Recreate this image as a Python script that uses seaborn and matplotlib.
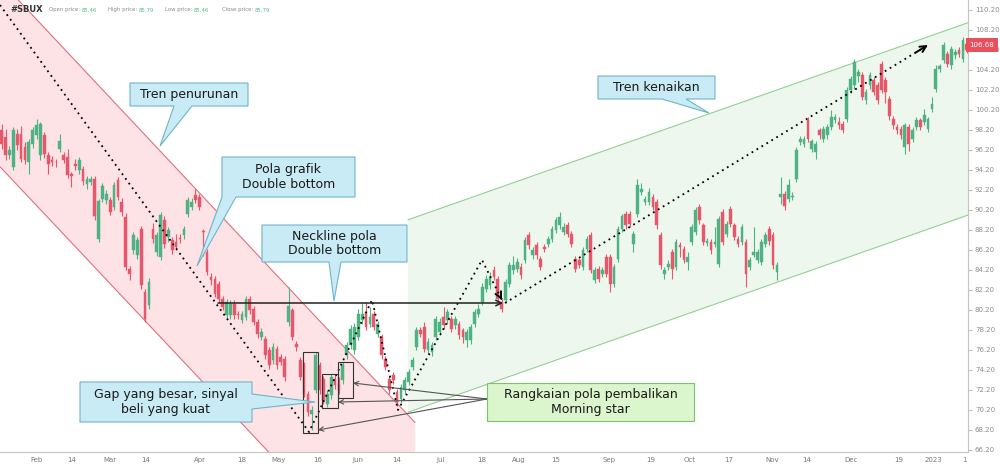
import matplotlib
matplotlib.use("Agg")
import matplotlib.pyplot as plt
import matplotlib.transforms as mtransforms
from matplotlib.patches import Polygon, Rectangle
import seaborn as sns

# daily candles (Jan 2022 .. Jan 2023)
opens = [
    98.15, 97.5, 95.65, 94.5, 97.8, 97.8, 96.5, 95.0, 96.8, 97.65,
    95.65, 97.65, 95.65, 95.2, 95.0, 96.3, 95.65, 95.5, 93.8, 94.8,
    94.15, 94.3, 92.8, 93.0, 93.3, 87.3, 91.3, 91.15, 91.15, 90.5,
    93.15, 91.0, 89.5, 84.3, 86.15, 85.65, 88.3, 82.0, 80.65, 88.3,
    86.0, 85.5, 89.15, 87.5, 87.15, 87.0, 87.4, 87.65, 89.8, 90.5,
    91.65, 91.5, 88.1, 86.0, 83.5, 83.3, 82.8, 81.3, 79.65, 79.65,
    80.8, 79.75, 79.15, 79.5, 81.3, 80.3, 79.0, 77.5, 77.3, 76.15,
    75.15, 76.3, 75.5, 75.3, 79.0, 80.15, 76.8, 75.15, 74.65, 71.8,
    69.8, 72.15, 74.65, 73.3, 70.8, 71.65, 73.3, 72.8, 73.15, 75.65,
    76.65, 76.15, 77.5, 79.15, 80.0, 78.8, 79.8, 77.8, 77.5, 75.3,
    73.3, 73.65, 72.0, 71.3, 72.15, 73.0, 74.5, 76.5, 78.15, 78.5,
    76.15, 76.0, 77.5, 78.0, 79.5, 79.15, 79.3, 78.65, 78.8, 78.15,
    77.15, 77.15, 78.8, 79.8, 81.0, 82.3, 82.65, 84.15, 83.3, 81.0,
    81.15, 82.8, 84.15, 84.3, 84.5, 85.15, 87.65, 85.65, 86.65, 85.3,
    86.5, 86.8, 87.3, 88.15, 88.65, 88.0, 88.65, 87.8, 85.3, 85.15,
    84.5, 86.3, 87.65, 83.15, 84.3, 83.8, 85.5, 85.5, 82.8, 85.3,
    88.3, 89.8, 89.8, 86.8, 89.8, 92.0, 91.0, 91.0, 91.5, 91.0,
    87.65, 83.8, 84.5, 86.0, 84.5, 86.65, 86.3, 85.0, 87.0, 88.0,
    90.5, 88.65, 86.9, 87.0, 86.8, 84.8, 90.0, 87.8, 90.3, 88.65,
    87.3, 87.0, 87.0, 84.5, 85.7, 85.15, 85.0, 86.8, 88.3, 87.65,
    84.0, 91.5, 91.8, 91.3, 91.5, 93.3, 97.0, 96.8, 99.15, 96.3,
    96.0, 98.15, 97.3, 97.65, 98.5, 99.15, 99.0, 98.8, 99.3, 102.15,
    102.65, 103.6, 103.65, 101.15, 102.65, 103.15, 102.65, 104.8, 103.15, 101.3,
    99.3, 98.5, 98.3, 96.5, 98.5, 97.3, 98.5, 99.15, 99.0, 98.3,
    100.3, 102.3, 104.3, 105.15, 105.8, 104.65, 105.65, 106.15, 105.3, 106.8,
]
closes = [
    96.8, 95.65, 96.15, 98.15, 96.65, 95.3, 95.15, 96.95, 98.15, 98.65,
    98.8, 95.8, 94.8, 95.0, 94.9, 97.0, 95.15, 93.65, 93.5, 94.5,
    95.15, 93.0, 93.3, 93.3, 89.5, 91.0, 92.5, 91.8, 90.0, 92.65,
    91.5, 90.0, 84.5, 83.8, 87.65, 87.15, 82.65, 79.3, 83.0, 87.3,
    87.65, 89.65, 86.8, 88.15, 86.15, 86.5, 87.3, 88.3, 91.15, 91.0,
    91.15, 90.5, 87.9, 84.0, 83.15, 81.8, 81.3, 80.5, 81.0, 80.8,
    79.65, 79.65, 79.8, 81.3, 80.15, 79.0, 77.8, 78.0, 75.65, 74.65,
    76.5, 74.65, 75.0, 73.5, 80.6, 77.5, 76.5, 73.5, 71.8, 70.0,
    70.15, 75.65, 72.15, 71.15, 71.8, 73.5, 72.65, 72.15, 74.65, 76.65,
    78.3, 78.5, 79.8, 79.8, 78.5, 79.5, 78.5, 78.8, 75.65, 74.5,
    72.15, 73.15, 71.0, 72.5, 73.15, 74.0, 75.15, 78.15, 77.8, 76.3,
    77.0, 76.65, 79.3, 79.0, 78.65, 80.0, 78.3, 79.3, 77.65, 77.5,
    78.0, 78.5, 80.0, 80.3, 82.5, 83.3, 83.5, 83.5, 81.3, 80.3,
    83.0, 84.65, 84.65, 85.0, 83.65, 87.15, 86.65, 86.15, 85.65, 84.5,
    86.3, 87.3, 88.3, 89.15, 89.5, 88.5, 87.8, 86.8, 84.3, 84.65,
    86.15, 87.3, 84.15, 84.15, 83.3, 84.15, 83.8, 82.8, 84.5, 88.3,
    89.5, 88.65, 88.8, 87.8, 92.65, 92.3, 91.3, 92.0, 90.5, 88.65,
    84.65, 84.15, 84.8, 84.3, 87.0, 86.5, 85.15, 85.5, 88.5, 90.15,
    89.15, 87.0, 87.1, 86.15, 86.9, 89.3, 87.0, 88.8, 88.8, 87.5,
    86.8, 88.5, 83.8, 85.15, 85.9, 86.0, 87.0, 87.65, 87.0, 84.65,
    84.65, 91.8, 90.5, 92.65, 91.6, 96.15, 97.3, 97.3, 97.3, 97.0,
    96.8, 97.65, 98.3, 98.5, 99.5, 99.5, 98.65, 98.15, 102.15, 103.3,
    105.0, 103.9, 101.5, 102.0, 103.65, 102.0, 101.15, 102.15, 102.0, 99.5,
    98.65, 98.15, 97.65, 98.65, 96.8, 98.15, 99.15, 98.5, 99.65, 99.2,
    100.8, 104.3, 104.5, 106.65, 104.8, 106.3, 106.0, 105.8, 107.15, 106.15,
]
highs = [
    98.8, 98.3, 96.6, 98.5, 98.3, 98.6, 97.0, 97.3, 98.5, 99.3,
    99.0, 98.0, 96.0, 95.6, 95.3, 97.8, 96.0, 96.3, 94.0, 95.3,
    95.5, 94.6, 93.6, 93.6, 93.6, 91.3, 92.9, 92.2, 91.5, 93.0,
    93.5, 91.4, 89.9, 84.6, 88.0, 87.5, 88.6, 82.3, 83.4, 88.9,
    88.0, 90.0, 89.6, 88.5, 87.5, 87.8, 87.8, 88.6, 91.5, 91.4,
    92.3, 91.8, 88.3, 86.3, 83.9, 83.6, 83.1, 81.6, 81.3, 81.2,
    81.2, 80.1, 80.1, 81.6, 81.6, 80.6, 79.3, 78.4, 77.6, 76.5,
    76.9, 76.6, 75.8, 75.6, 82.5, 80.4, 77.1, 75.5, 75.0, 72.1,
    70.6, 76.0, 75.0, 73.6, 72.2, 73.8, 73.7, 73.5, 75.0, 77.0,
    78.7, 78.9, 80.3, 80.9, 81.0, 80.5, 80.1, 79.1, 77.8, 75.6,
    73.6, 74.0, 72.3, 72.8, 73.5, 74.3, 75.5, 78.5, 78.5, 79.0,
    77.4, 77.0, 79.6, 79.4, 80.5, 80.3, 79.6, 79.6, 79.1, 78.4,
    78.3, 78.8, 80.3, 80.8, 82.9, 83.7, 84.0, 84.6, 83.6, 81.3,
    83.3, 85.0, 85.6, 85.4, 84.9, 87.5, 88.0, 86.5, 87.0, 85.6,
    86.8, 87.6, 88.6, 89.5, 90.0, 88.9, 89.0, 88.1, 85.6, 85.4,
    86.5, 87.6, 88.0, 84.5, 84.6, 84.5, 85.8, 85.8, 84.8, 88.6,
    89.8, 90.1, 90.1, 88.1, 93.3, 92.9, 91.6, 92.4, 91.8, 91.3,
    88.0, 84.5, 85.2, 86.3, 87.3, 87.0, 86.6, 86.0, 88.8, 90.5,
    90.8, 88.9, 87.4, 87.3, 88.5, 89.6, 90.3, 89.1, 90.6, 88.9,
    87.6, 88.8, 87.3, 85.5, 88.5, 86.3, 87.3, 88.0, 88.6, 88.0,
    85.0, 93.5, 92.1, 93.3, 92.0, 96.5, 97.6, 97.6, 99.5, 97.3,
    97.1, 98.4, 98.6, 98.8, 100.2, 99.8, 99.5, 99.1, 102.5, 103.6,
    105.3, 104.3, 104.0, 102.3, 104.0, 103.5, 103.0, 105.1, 103.5, 101.6,
    99.6, 98.8, 98.6, 98.9, 98.8, 98.5, 99.5, 99.4, 100.3, 99.5,
    101.5, 104.7, 104.8, 107.0, 106.1, 106.6, 106.3, 106.5, 107.5, 107.0,
]
lows = [
    96.3, 95.2, 95.3, 94.2, 96.2, 95.0, 94.8, 93.8, 96.4, 97.3,
    95.2, 95.4, 93.8, 94.6, 94.5, 96.0, 94.9, 93.4, 92.5, 94.2,
    93.8, 92.7, 92.3, 92.7, 89.2, 87.0, 91.0, 90.8, 89.7, 90.2,
    91.2, 89.6, 84.2, 83.2, 85.8, 85.3, 82.3, 79.0, 80.3, 86.9,
    85.6, 85.2, 86.4, 87.0, 85.8, 86.2, 86.9, 87.3, 89.5, 90.2,
    90.9, 90.2, 85.6, 83.7, 82.7, 81.5, 80.9, 80.2, 79.4, 79.3,
    79.3, 79.3, 78.9, 79.2, 79.8, 78.7, 77.4, 77.2, 75.3, 74.3,
    74.8, 74.3, 74.7, 73.1, 78.6, 77.2, 76.1, 73.2, 71.5, 69.6,
    68.2, 71.9, 71.8, 70.8, 70.5, 71.3, 72.3, 71.8, 72.8, 75.3,
    76.3, 75.8, 77.2, 78.8, 78.2, 78.5, 78.2, 77.5, 75.3, 74.2,
    71.8, 72.8, 70.6, 70.9, 71.8, 72.7, 74.2, 76.2, 77.5, 76.0,
    75.8, 75.6, 77.2, 77.7, 78.3, 78.8, 78.0, 78.3, 77.3, 76.9,
    76.5, 76.8, 78.5, 79.5, 80.7, 82.0, 82.3, 83.2, 81.0, 80.0,
    80.9, 82.5, 83.8, 84.0, 83.3, 84.9, 86.3, 85.3, 85.3, 84.2,
    86.0, 86.5, 87.0, 87.9, 88.3, 87.7, 87.5, 86.5, 84.0, 84.4,
    84.2, 86.0, 83.9, 82.9, 83.0, 83.5, 83.5, 82.0, 82.5, 85.0,
    88.0, 88.3, 88.5, 86.0, 89.5, 91.7, 90.7, 90.7, 90.2, 88.3,
    84.3, 83.3, 84.2, 83.3, 84.2, 85.5, 84.9, 84.2, 86.7, 87.7,
    88.8, 86.7, 86.6, 85.8, 86.5, 84.5, 86.7, 87.5, 88.5, 87.2,
    86.5, 86.7, 82.5, 84.2, 85.5, 84.9, 84.7, 86.5, 86.7, 84.3,
    83.2, 90.8, 90.2, 91.0, 91.2, 93.0, 96.7, 96.5, 97.0, 96.0,
    95.3, 97.3, 97.0, 97.3, 98.2, 98.9, 98.3, 97.9, 99.0, 101.9,
    102.3, 103.0, 101.2, 100.8, 102.3, 101.7, 100.8, 101.9, 100.9, 99.2,
    98.3, 97.8, 97.3, 95.8, 96.1, 97.0, 98.2, 98.2, 98.7, 98.0,
    100.0, 102.0, 104.0, 104.9, 104.5, 104.3, 105.3, 105.5, 105.0, 105.9,
]

tick_days = [9.1, 18.1, 27.9, 37.2, 51.2, 62.0, 71.5, 81.6, 91.9, 102.0, 113.3, 123.9,
             133.5, 143.0, 156.7, 167.5, 177.6, 187.6, 198.7, 207.8, 219.1, 231.3, 240.3, 248.5]
tick_labels = ["Feb", "14", "Mar", "14", "Apr", "18", "May", "16", "Jun", "14", "Jul", "18",
               "Aug", "15", "Sep", "19", "Oct", "17", "Nov", "14", "Dec", "19", "2023", "1"]
price_ticks = [66.2, 68.2, 70.2, 72.2, 74.2, 76.2, 78.2, 80.2, 82.2, 84.2, 86.2, 88.2,
               90.2, 92.2, 94.2, 96.2, 98.2, 100.2, 102.2, 104.2, 106.2, 108.2, 110.2]
last_price = 106.68
header_names = ["Open price:", "High price:", "Low price:", "Close price:"]
header_values = ["85.46", "85.79", "85.46", "85.79"]

GREEN = "#4fb283"
RED = "#e8566a"

sns.set_style("white")
plt.rcParams["font.family"] = ["DejaVu Sans"]

fig = plt.figure(figsize=(10, 4.67), dpi=100)
ax = fig.add_axes([0, 15 / 467, 0.968, 452 / 467])

# helpers: picture pixels (from top-left) -> data coords
def dx(px):
    return (px - 1.7) / 3.876

def dy(py):
    return 110.2 - (py - 9.5) / 10.0

def pts(seq):
    return [(dx(a), dy(b)) for a, b in seq]

ax.set_xlim(dx(0), dx(968))
ax.set_ylim(dy(452), dy(0))

# channels
ax.add_patch(Polygon(pts([(0, -19.5), (415, 422.5), (415, 480), (295, 480), (0, 166.7)]),
                     closed=True, fc="#fde2e6", ec="none", zorder=0))
ax.plot(*zip(*pts([(0, -19.5), (415, 422.5)])), color="#e0707f", lw=0.8, zorder=1)
ax.plot(*zip(*pts([(0, 166.7), (295, 480)])), color="#e0707f", lw=0.8, zorder=1)

ax.add_patch(Polygon(pts([(408, 219.8), (968, 22.7), (968, 215.1), (408, 412.2)]),
                     closed=True, fc="#eef7ee", ec="none", zorder=0))
ax.plot(*zip(*pts([(408, 219.8), (968, 22.7)])), color="#93d093", lw=0.8, zorder=1)
ax.plot(*zip(*pts([(408, 412.2), (968, 215.1)])), color="#93d093", lw=0.8, zorder=1)

# candles
days = list(range(len(closes)))
colors = [GREEN if c >= o else RED for o, c in zip(opens, closes)]
ax.vlines(days, lows, highs, colors=colors, lw=0.8, zorder=3)
ax.bar(days, [c - o for o, c in zip(opens, closes)], bottom=opens, width=0.7,
       color=colors, edgecolor=colors, linewidth=0.3, zorder=3)

# dotted trend paths
path1 = pts([(0, 5), (309, 432), (372, 300), (398, 410), (482, 260), (502, 300)])
ax.plot(*zip(*path1), color="black", lw=1.3, ls=(0, (1, 2.2)), zorder=4)
path2 = pts([(505, 303), (928, 45)])
ax.plot(*zip(*path2), color="black", lw=1.3, ls=(0, (1, 2.2)), zorder=4)

def arrow_head(p_from, p_to):
    fx, fy = p_from
    tx, ty = p_to
    start = (tx - (tx - fx) * 0.03, ty - (ty - fy) * 0.03)
    ax.annotate("", xy=p_to, xytext=start,
                arrowprops=dict(arrowstyle="->", color="black", lw=1.4,
                                mutation_scale=11, shrinkA=0, shrinkB=0), zorder=4)

arrow_head(path1[-2], path1[-1])
arrow_head(path2[0], path2[1])

# neckline
ax.annotate("", xy=(dx(503), dy(303)), xytext=(dx(218), dy(303)),
            arrowprops=dict(arrowstyle="->", color="#222222", lw=1.1,
                            mutation_scale=10, shrinkA=0, shrinkB=0), zorder=4)

# morning star boxes
for x0, y0, x1, y1 in [(303, 352, 318, 433), (322, 374, 338, 408), (338, 362, 353, 398)]:
    ax.add_patch(Rectangle((dx(x0), dy(y1)), dx(x1) - dx(x0), dy(y0) - dy(y1),
                           fill=False, ec="#333333", lw=0.8, zorder=4))

for tx, ty in [(353, 383), (338, 402), (318, 430)]:
    ax.annotate("", xy=(dx(tx), dy(ty)), xytext=(dx(487), dy(399)),
                arrowprops=dict(arrowstyle="->", color="#555555", lw=0.8,
                                mutation_scale=8, shrinkA=0, shrinkB=0), zorder=4)

# callouts
BLUE_FC, BLUE_EC = "#c8ebf5", "#6fb4c9"

def callout(x0, y0, x1, y1, text, tail=None, side="bottom", fc=BLUE_FC, ec=BLUE_EC):
    if tail is None:
        verts = [(x0, y0), (x1, y0), (x1, y1), (x0, y1)]
    elif side == "bottom":
        b1, b2, tx, ty = tail
        verts = [(x0, y0), (x1, y0), (x1, y1), (b2, y1), (tx, ty), (b1, y1), (x0, y1)]
    else:
        b1, b2, tx, ty = tail
        verts = [(x0, y0), (x1, y0), (x1, b1), (tx, ty), (x1, b2), (x1, y1), (x0, y1)]
    ax.add_patch(Polygon(pts(verts), closed=True, fc=fc, ec=ec, lw=0.8, zorder=5))
    ax.text(dx((x0 + x1) / 2), dy((y0 + y1) / 2), text, ha="center", va="center",
            fontsize=9, color="#1a1a1a", linespacing=1.15, zorder=6)

callout(130, 83, 248, 106, "Tren penurunan", tail=(174, 192, 160, 146))
callout(222, 157, 355, 197, "Pola grafik\nDouble bottom", tail=(222, 236, 197, 266))
callout(262, 225, 407, 262, "Neckline pola\nDouble bottom", tail=(329, 341, 334, 301))
callout(80, 382, 252, 422, "Gap yang besar, sinyal\nbeli yang kuat",
        tail=(394, 409, 315, 402), side="right")
callout(598, 76, 715, 99, "Tren kenaikan", tail=(662, 686, 709, 113))
callout(487, 383, 694, 421, "Rangkaian pola pembalikan\nMorning star",
        fc="#dbf5cc", ec="#7cc36a")

# axes styling
for s in ["top", "left"]:
    ax.spines[s].set_visible(False)
for s in ["right", "bottom"]:
    ax.spines[s].set_color("#c4c4c4")
    ax.spines[s].set_linewidth(0.8)
ax.yaxis.tick_right()
ax.set_yticks(price_ticks, [f"{v:.2f}" for v in price_ticks])
ax.set_xticks(tick_days, tick_labels)
ax.tick_params(axis="y", length=3, color="#bdbdbd", labelsize=5, labelcolor="#8c8c8c", pad=2)
ax.tick_params(axis="x", length=2, color="#bdbdbd", labelsize=5, labelcolor="#777777", pad=1.5)
ax.grid(False)

# last price tag (covers the 106.20 tick label, as in the picture)
trans = mtransforms.blended_transform_factory(ax.transAxes, ax.transData)
ax.text(1.0015, last_price, f"{last_price:.2f}", transform=trans, ha="left", va="center",
        fontsize=5, color="white", zorder=10, clip_on=False,
        bbox=dict(boxstyle="square,pad=0.55", fc="#ea4f5e", ec="none"))

# header
fig.text(0.010, 1 - 10 / 467, "#SBUX", fontsize=6, fontweight="bold", color="#333333", va="center")
for name, val, x_val in zip(header_names, header_values, [82, 139, 194, 255]):
    fig.text((x_val - 2) / 1000, 1 - 10 / 467, name, fontsize=3.9, color="#8a8a8a",
             va="center", ha="right")
    fig.text(x_val / 1000, 1 - 10 / 467, val, fontsize=3.9, color="#5cb88a", va="center")

fig.savefig("out.png", dpi=100)
